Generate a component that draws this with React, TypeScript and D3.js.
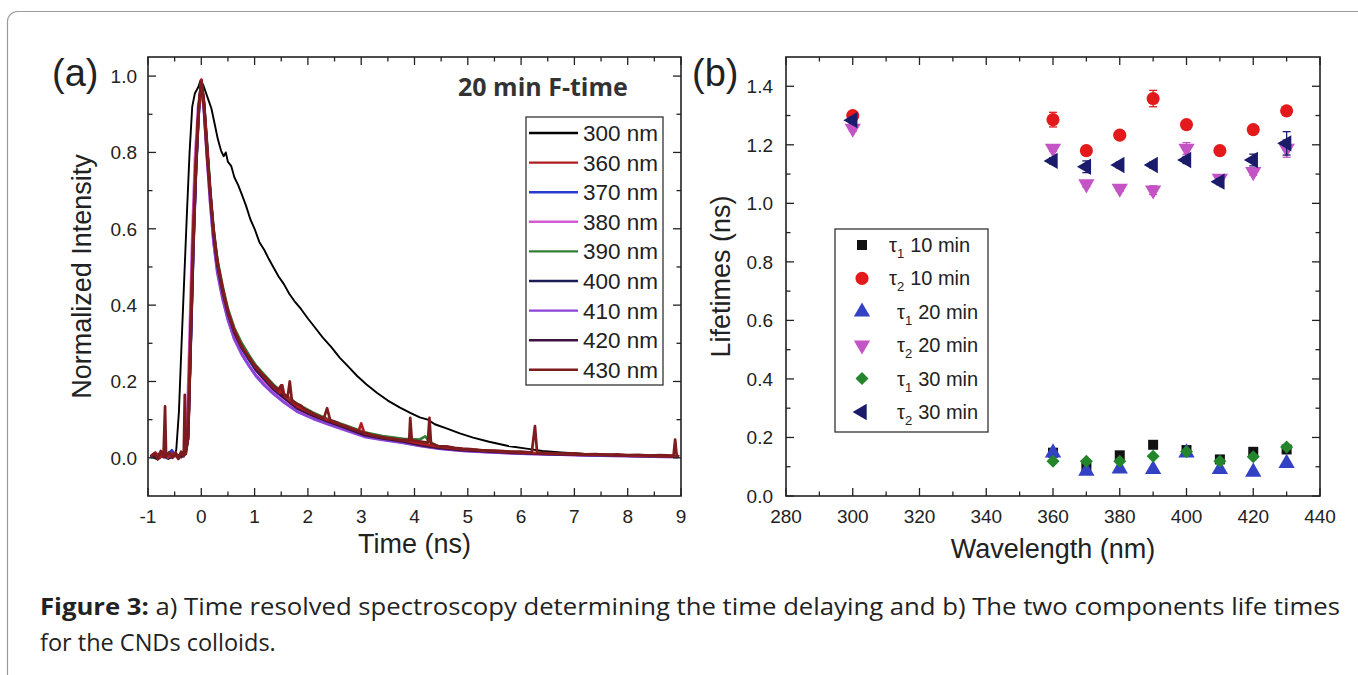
import React from 'react';
import * as d3 from 'd3';

// ---------- panel (a): normalized decay traces, [time ns, intensity] ----------
const TRACE_LABELS = ['300 nm', '360 nm', '370 nm', '380 nm', '390 nm', '400 nm', '410 nm', '420 nm', '430 nm'];
const TRACE_COLORS = ['#000000', '#b01c22', '#2a3bd0', '#d25ad2', '#2f7f34', '#1c1c55', '#8a44d6', '#3c1240', '#7c1c1e'];

const trace300 = [
  [-0.92, 0.002], [-0.82, -0.004], [-0.72, 0.004], [-0.62, -0.003], [-0.52, 0.003], [-0.47, 0.02], [-0.42, 0.12],
  [-0.37, 0.3], [-0.32, 0.47], [-0.27, 0.64], [-0.22, 0.8], [-0.17, 0.92], [-0.12, 0.955], [-0.06, 0.97], [-0.01, 0.99],
  [0.04, 0.975], [0.09, 0.955], [0.14, 0.935], [0.19, 0.915], [0.25, 0.875], [0.31, 0.835], [0.37, 0.805], [0.42, 0.79],
  [0.46, 0.8], [0.5, 0.775], [0.56, 0.765], [0.62, 0.735], [0.69, 0.715], [0.76, 0.69], [0.84, 0.66], [0.92, 0.625],
  [1.0, 0.6], [1.09, 0.565], [1.18, 0.545], [1.27, 0.52], [1.35, 0.5], [1.45, 0.475], [1.55, 0.455], [1.65, 0.43],
  [1.75, 0.41], [1.87, 0.39], [2.0, 0.365], [2.14, 0.34], [2.28, 0.315], [2.44, 0.29], [2.6, 0.262], [2.75, 0.24],
  [2.92, 0.215], [3.1, 0.192], [3.3, 0.17], [3.5, 0.15], [3.72, 0.132], [3.92, 0.118], [4.1, 0.106], [4.25, 0.1],
  [4.38, 0.088], [4.6, 0.077], [4.85, 0.064], [5.1, 0.053], [5.4, 0.042], [5.76, 0.031], [6.1, 0.024], [6.4, 0.018],
  [6.75, 0.014], [7.2, 0.01], [7.7, 0.008], [8.2, 0.006], [8.6, 0.004], [8.95, 0.003],
];

const trace360 = [
  [-0.95, 0.004], [-0.86, 0.014], [-0.78, 0.0], [-0.7, 0.016], [-0.62, 0.002], [-0.52, 0.012], [-0.44, 0.0],
  [-0.36, 0.014], [-0.3, 0.01], [-0.26, 0.05], [-0.21, 0.3], [-0.16, 0.56], [-0.11, 0.76], [-0.05, 0.91], [0.0, 0.99],
  [0.05, 0.93], [0.1, 0.83], [0.17, 0.69], [0.23, 0.595], [0.3, 0.515], [0.4, 0.445], [0.5, 0.385], [0.62, 0.335],
  [0.76, 0.292], [0.9, 0.262], [1.02, 0.238], [1.18, 0.212], [1.35, 0.186], [1.48, 0.17], [1.52, 0.19], [1.56, 0.162],
  [1.81, 0.134], [2.1, 0.115], [2.4, 0.098], [2.7, 0.083], [2.95, 0.07], [3.0, 0.09], [3.06, 0.064], [3.4, 0.054],
  [3.79, 0.046], [4.1, 0.038], [4.45, 0.029], [4.9, 0.023], [5.43, 0.018], [6.0, 0.014], [6.75, 0.01], [7.5, 0.008],
  [8.2, 0.006], [8.95, 0.004],
];

const trace370 = [
  [-0.95, 0.004], [-0.8, 0.01], [-0.65, 0.003], [-0.55, 0.02], [-0.5, 0.004], [-0.38, 0.008], [-0.3, 0.012],
  [-0.25, 0.06], [-0.2, 0.3], [-0.15, 0.55], [-0.1, 0.76], [-0.05, 0.9], [0.0, 0.98], [0.05, 0.92], [0.1, 0.82],
  [0.17, 0.68], [0.23, 0.58], [0.3, 0.5], [0.4, 0.43], [0.5, 0.375], [0.62, 0.325], [0.76, 0.285], [0.9, 0.255],
  [1.02, 0.23], [1.18, 0.205], [1.35, 0.178], [1.55, 0.156], [1.81, 0.128], [2.1, 0.11], [2.4, 0.093], [2.7, 0.078],
  [3.06, 0.06], [3.4, 0.05], [3.79, 0.042], [4.1, 0.034], [4.45, 0.026], [4.9, 0.02], [5.43, 0.016], [6.0, 0.012],
  [6.75, 0.009], [7.5, 0.007], [8.2, 0.005], [8.95, 0.003],
];

const trace380 = [
  [-0.95, 0.003], [-0.8, 0.008], [-0.65, 0.002], [-0.5, 0.01], [-0.38, 0.004], [-0.3, 0.02], [-0.27, 0.07],
  [-0.22, 0.32], [-0.17, 0.58], [-0.12, 0.78], [-0.06, 0.92], [0.0, 0.98], [0.05, 0.91], [0.1, 0.8], [0.17, 0.66],
  [0.23, 0.565], [0.3, 0.49], [0.4, 0.42], [0.5, 0.36], [0.62, 0.31], [0.76, 0.27], [0.9, 0.24], [1.02, 0.218],
  [1.18, 0.195], [1.35, 0.17], [1.55, 0.148], [1.81, 0.122], [2.1, 0.105], [2.4, 0.09], [2.7, 0.075], [3.06, 0.058],
  [3.4, 0.048], [3.79, 0.04], [4.1, 0.032], [4.45, 0.025], [4.9, 0.019], [5.43, 0.015], [6.0, 0.011], [6.75, 0.008],
  [7.5, 0.006], [8.2, 0.005], [8.95, 0.003],
];

const trace390 = [
  [-0.95, 0.002], [-0.8, 0.006], [-0.65, 0.0], [-0.5, 0.008], [-0.38, 0.002], [-0.3, 0.01], [-0.25, 0.05],
  [-0.2, 0.29], [-0.15, 0.55], [-0.1, 0.75], [-0.05, 0.9], [0.0, 0.985], [0.05, 0.935], [0.1, 0.84], [0.17, 0.7],
  [0.23, 0.6], [0.3, 0.52], [0.4, 0.45], [0.5, 0.39], [0.62, 0.34], [0.76, 0.3], [0.9, 0.268], [1.02, 0.243],
  [1.18, 0.218], [1.35, 0.192], [1.55, 0.168], [1.81, 0.14], [2.1, 0.118], [2.4, 0.1], [2.7, 0.085], [3.06, 0.067],
  [3.4, 0.057], [3.79, 0.05], [4.1, 0.048], [4.2, 0.056], [4.3, 0.04], [4.45, 0.03], [4.9, 0.023], [5.43, 0.018],
  [6.0, 0.013], [6.75, 0.01], [7.5, 0.007], [8.2, 0.005], [8.95, 0.004],
];

const trace400 = [
  [-0.95, 0.003], [-0.8, 0.008], [-0.65, 0.001], [-0.5, 0.009], [-0.38, 0.003], [-0.3, 0.012], [-0.25, 0.05],
  [-0.2, 0.3], [-0.15, 0.56], [-0.1, 0.76], [-0.05, 0.91], [0.0, 0.99], [0.05, 0.93], [0.1, 0.83], [0.17, 0.69],
  [0.23, 0.59], [0.3, 0.51], [0.4, 0.44], [0.5, 0.38], [0.62, 0.33], [0.76, 0.29], [0.9, 0.26], [1.02, 0.235],
  [1.18, 0.21], [1.35, 0.183], [1.55, 0.16], [1.81, 0.13], [2.1, 0.112], [2.4, 0.096], [2.7, 0.08], [3.06, 0.061],
  [3.4, 0.052], [3.79, 0.044], [4.1, 0.035], [4.45, 0.026], [4.9, 0.021], [5.43, 0.017], [6.0, 0.013], [6.75, 0.009],
  [7.5, 0.007], [8.2, 0.005], [8.95, 0.003],
];

const trace410 = [
  [-0.95, 0.002], [-0.8, 0.007], [-0.65, 0.0], [-0.5, 0.006], [-0.38, 0.002], [-0.3, 0.01], [-0.25, 0.05],
  [-0.2, 0.29], [-0.15, 0.54], [-0.1, 0.75], [-0.05, 0.9], [0.0, 0.975], [0.05, 0.91], [0.1, 0.8], [0.17, 0.665],
  [0.23, 0.565], [0.3, 0.485], [0.4, 0.415], [0.5, 0.362], [0.62, 0.312], [0.76, 0.272], [0.9, 0.24], [1.02, 0.215],
  [1.18, 0.19], [1.35, 0.168], [1.55, 0.145], [1.81, 0.12], [2.1, 0.102], [2.4, 0.087], [2.7, 0.072], [3.06, 0.055],
  [3.4, 0.047], [3.79, 0.039], [4.1, 0.031], [4.45, 0.024], [4.9, 0.018], [5.43, 0.014], [6.0, 0.011], [6.75, 0.008],
  [7.5, 0.006], [8.2, 0.004], [8.95, 0.002],
];

const trace420 = [
  [-0.95, 0.003], [-0.8, 0.009], [-0.65, 0.002], [-0.5, 0.01], [-0.38, 0.003], [-0.3, 0.011], [-0.25, 0.05],
  [-0.2, 0.3], [-0.15, 0.56], [-0.1, 0.76], [-0.05, 0.91], [0.0, 0.985], [0.05, 0.925], [0.1, 0.825], [0.17, 0.685],
  [0.23, 0.585], [0.3, 0.505], [0.4, 0.435], [0.5, 0.378], [0.62, 0.328], [0.76, 0.288], [0.9, 0.258], [1.02, 0.232],
  [1.18, 0.207], [1.35, 0.181], [1.55, 0.158], [1.81, 0.129], [2.1, 0.11], [2.4, 0.094], [2.7, 0.079], [3.06, 0.06],
  [3.4, 0.051], [3.79, 0.043], [4.1, 0.034], [4.45, 0.026], [4.9, 0.02], [5.43, 0.016], [6.0, 0.012], [6.75, 0.009],
  [7.5, 0.007], [8.2, 0.005], [8.95, 0.003],
];

const trace430 = [
  [-0.95, 0.003], [-0.88, 0.012], [-0.82, -0.004], [-0.76, 0.018], [-0.71, 0.002], [-0.68, 0.135], [-0.66, 0.004],
  [-0.6, 0.015], [-0.54, 0.0], [-0.48, 0.014], [-0.43, -0.003], [-0.38, 0.016], [-0.33, 0.004], [-0.31, 0.165],
  [-0.29, 0.01], [-0.26, 0.04], [-0.23, 0.12], [-0.2, 0.32], [-0.15, 0.57], [-0.1, 0.77], [-0.05, 0.92], [0.0, 0.985],
  [0.04, 0.94], [0.08, 0.85], [0.12, 0.77], [0.17, 0.69], [0.22, 0.61], [0.27, 0.55], [0.32, 0.5], [0.38, 0.455],
  [0.44, 0.415], [0.5, 0.385], [0.56, 0.355], [0.62, 0.335], [0.69, 0.31], [0.76, 0.292], [0.83, 0.275], [0.9, 0.262],
  [0.97, 0.246], [1.04, 0.238], [1.12, 0.222], [1.2, 0.212], [1.28, 0.2], [1.36, 0.188], [1.44, 0.178], [1.5, 0.19],
  [1.54, 0.166], [1.62, 0.16], [1.66, 0.2], [1.7, 0.15], [1.78, 0.142], [1.86, 0.138], [1.94, 0.128], [2.02, 0.122],
  [2.1, 0.116], [2.2, 0.108], [2.3, 0.104], [2.36, 0.13], [2.42, 0.098], [2.52, 0.094], [2.62, 0.086], [2.72, 0.082],
  [2.82, 0.076], [2.92, 0.072], [3.02, 0.066], [3.12, 0.064], [3.22, 0.058], [3.32, 0.056], [3.42, 0.053],
  [3.52, 0.05], [3.62, 0.05], [3.72, 0.046], [3.82, 0.048], [3.9, 0.044], [3.92, 0.105], [3.95, 0.046], [4.05, 0.044],
  [4.15, 0.042], [4.25, 0.04], [4.28, 0.105], [4.31, 0.038], [4.45, 0.03], [4.6, 0.03], [4.75, 0.026], [4.9, 0.024],
  [5.05, 0.023], [5.2, 0.02], [5.4, 0.019], [5.6, 0.018], [5.8, 0.016], [6.0, 0.016], [6.2, 0.014], [6.26, 0.083],
  [6.3, 0.014], [6.45, 0.013], [6.6, 0.012], [6.8, 0.011], [7.0, 0.012], [7.2, 0.009], [7.4, 0.01], [7.6, 0.008],
  [7.8, 0.009], [8.0, 0.007], [8.2, 0.008], [8.4, 0.006], [8.6, 0.007], [8.86, 0.006], [8.89, 0.048], [8.92, 0.005],
  [8.97, 0.004],
];

const TRACES = [trace300, trace360, trace370, trace380, trace390, trace400, trace410, trace420, trace430];
// draw order: black first, reds last (on top)
const DRAW_ORDER = [0, 2, 3, 4, 5, 6, 7, 1, 8];

// ---------- panel (b): lifetimes vs excitation wavelength ----------
const WAVELENGTH = [300, 360, 370, 380, 390, 400, 410, 420, 430];
const tau1_10 = [null, 0.148, 0.102, 0.139, 0.175, 0.157, 0.125, 0.151, 0.159];
const tau2_10 = [1.30, 1.286, 1.18, 1.233, 1.358, 1.269, 1.18, 1.252, 1.316];
const tau2_10_err = [0.01, 0.025, 0.012, 0.012, 0.028, 0.012, 0.012, 0.01, 0.01];
const tau1_20 = [null, 0.148, 0.085, 0.093, 0.091, 0.148, 0.091, 0.082, 0.112];
const tau2_20 = [1.256, 1.1875, 1.066, 1.051, 1.045, 1.1875, 1.085, 1.108, 1.1875];
const tau2_20_err = [0.01, 0.01, 0.01, 0.01, 0.015, 0.02, 0.01, 0.012, 0.03];
const tau1_30 = [null, 0.119, 0.119, 0.119, 0.136, 0.151, 0.119, 0.134, 0.167];
const tau2_30 = [1.284, 1.145, 1.125, 1.131, 1.131, 1.148, 1.074, 1.148, 1.205];
const tau2_30_err = [0.01, 0.01, 0.02, 0.01, 0.01, 0.012, 0.01, 0.02, 0.04];

const LIFETIME_SERIES = [
  { sub: '1', label: '10 min', values: tau1_10, err: null, color: '#111111', shape: 'square' },
  { sub: '2', label: '10 min', values: tau2_10, err: tau2_10_err, color: '#e3191c', shape: 'circle' },
  { sub: '1', label: '20 min', values: tau1_20, err: null, color: '#3342c4', shape: 'up' },
  { sub: '2', label: '20 min', values: tau2_20, err: tau2_20_err, color: '#c453c6', shape: 'down' },
  { sub: '1', label: '30 min', values: tau1_30, err: null, color: '#23862c', shape: 'diamond' },
  { sub: '2', label: '30 min', values: tau2_30, err: tau2_30_err, color: '#1b1b6b', shape: 'left' },
];

const W = 1358;
const H = 675;
const A = { left: 148, right: 681, top: 57, bottom: 496 };
const B = { left: 786, right: 1320, top: 57, bottom: 496 };
const FONT = "'Liberation Sans', Arial, sans-serif";

const xA = d3.scaleLinear().domain([-1, 9]).range([A.left, A.right]);
const yA = d3.scaleLinear().domain([-0.1, 1.05]).range([A.bottom, A.top]);
const xB = d3.scaleLinear().domain([280, 440]).range([B.left, B.right]);
const yB = d3.scaleLinear().domain([0, 1.5]).range([B.bottom, B.top]);

function shapePath(shape: string) {
  if (shape === 'square') return { d: d3.symbol().type(d3.symbolSquare).size(100)(), rot: 0 };
  if (shape === 'circle') return { d: d3.symbol().type(d3.symbolCircle).size(135)(), rot: 0 };
  if (shape === 'up') return { d: d3.symbol().type(d3.symbolTriangle).size(115)(), rot: 0 };
  if (shape === 'down') return { d: d3.symbol().type(d3.symbolTriangle).size(115)(), rot: 180 };
  if (shape === 'diamond') return { d: d3.symbol().type(d3.symbolSquare).size(85)(), rot: 45 };
  return { d: d3.symbol().type(d3.symbolTriangle).size(115)(), rot: -90 };
}

function Frame({ box, x, y, xMajor, xMinor, yMajor, yMinor }: any) {
  const maj = 8;
  const mnr = 4.5;
  const st = { stroke: '#222', strokeWidth: 1.3 };
  return (
    <g>
      {xMajor.map((v: number) => (
        <g key={'xM' + v}>
          <line x1={x(v)} x2={x(v)} y1={box.bottom} y2={box.bottom - maj} style={st} />
          <line x1={x(v)} x2={x(v)} y1={box.top} y2={box.top + maj} style={st} />
        </g>
      ))}
      {xMinor.map((v: number) => (
        <g key={'xm' + v}>
          <line x1={x(v)} x2={x(v)} y1={box.bottom} y2={box.bottom - mnr} style={st} />
          <line x1={x(v)} x2={x(v)} y1={box.top} y2={box.top + mnr} style={st} />
        </g>
      ))}
      {yMajor.map((v: number) => (
        <g key={'yM' + v}>
          <line x1={box.left} x2={box.left + maj} y1={y(v)} y2={y(v)} style={st} />
          <line x1={box.right} x2={box.right - maj} y1={y(v)} y2={y(v)} style={st} />
        </g>
      ))}
      {yMinor.map((v: number) => (
        <g key={'ym' + v}>
          <line x1={box.left} x2={box.left + mnr} y1={y(v)} y2={y(v)} style={st} />
          <line x1={box.right} x2={box.right - mnr} y1={y(v)} y2={y(v)} style={st} />
        </g>
      ))}
      <rect x={box.left} y={box.top} width={box.right - box.left} height={box.bottom - box.top}
        style={{ fill: 'none', stroke: '#222', strokeWidth: 1.6 }} />
    </g>
  );
}

export default function App() {
  const line = d3.line<number[]>().x(d => xA(d[0])).y(d => yA(d[1]));
  const fmt1 = d3.format('.1f');

  const aXMajor = d3.range(-1, 9.01, 1);
  const aXMinor = d3.range(-0.5, 8.6, 1);
  const aYMajor = d3.range(0, 1.01, 0.2).map(v => +v.toFixed(1));
  const aYMinor = [0.1, 0.3, 0.5, 0.7, 0.9];
  const bXMajor = d3.range(280, 441, 20);
  const bXMinor = d3.range(290, 431, 20);
  const bYMajor = d3.range(0, 1.41, 0.2).map(v => +v.toFixed(1));
  const bYMinor = [0.1, 0.3, 0.5, 0.7, 0.9, 1.1, 1.3];

  const legA = { x: 526, y: 117, w: 137, h: 268, row0: 133, dy: 29.6 };
  const legB = { x: 835, y: 229, w: 153, h: 203, row0: 245, dy: 33.4 };

  return (
    <svg width={W} height={H} style={{ position: 'absolute', left: 0, top: 0, background: '#fff' }} fontFamily={FONT}>
      <rect x={7.5} y={11.5} width={1420} height={720} rx={10} style={{ fill: 'none', stroke: '#9a9a9a', strokeWidth: 1.2 }} />

      {/* ---------------- panel (a) ---------------- */}
      <text x={52} y={86} fontSize={38} fill="#222">(a)</text>
      <defs>
        <clipPath id="clipA">
          <rect x={A.left} y={A.top} width={A.right - A.left} height={A.bottom - A.top} />
        </clipPath>
      </defs>
      <g clipPath="url(#clipA)">
        {DRAW_ORDER.map(i => (
          <path key={i} d={line(TRACES[i] as number[][]) || ''} fill="none" stroke={TRACE_COLORS[i]}
            strokeWidth={i === 0 ? 1.9 : 2.7} strokeLinejoin="round" />
        ))}
      </g>
      <Frame box={A} x={xA} y={yA} xMajor={aXMajor} xMinor={aXMinor} yMajor={aYMajor} yMinor={aYMinor} />
      {aXMajor.map(v => (
        <text key={v} x={xA(v)} y={523} fontSize={19} textAnchor="middle" fill="#222">{v}</text>
      ))}
      {aYMajor.map(v => (
        <text key={v} x={137} y={yA(v) + 7} fontSize={19} textAnchor="end" fill="#222">{fmt1(v)}</text>
      ))}
      <text x={(A.left + A.right) / 2} y={553} fontSize={27} textAnchor="middle" fill="#222">Time (ns)</text>
      <text transform={`translate(91,${(A.top + A.bottom) / 2}) rotate(-90)`} fontSize={27} textAnchor="middle" fill="#222">
        Normalized Intensity
      </text>
      <text x={458} y={96} fontSize={25} fontWeight="bold" fontFamily="'Open Sans', sans-serif" fill="#333">20 min F-time</text>

      <rect x={legA.x} y={legA.y} width={legA.w} height={legA.h} style={{ fill: '#fff', stroke: '#333', strokeWidth: 1.3 }} />
      {TRACE_LABELS.map((lab, i) => {
        const yy = legA.row0 + i * legA.dy;
        return (
          <g key={lab}>
            <line x1={legA.x + 3} x2={legA.x + 52} y1={yy} y2={yy} stroke={TRACE_COLORS[i]} strokeWidth={2.4} />
            <text x={legA.x + 57} y={yy + 8} fontSize={22.5} fill="#222">{lab}</text>
          </g>
        );
      })}

      {/* ---------------- panel (b) ---------------- */}
      <text x={692} y={86} fontSize={38} fill="#222">(b)</text>
      <Frame box={B} x={xB} y={yB} xMajor={bXMajor} xMinor={bXMinor} yMajor={bYMajor} yMinor={bYMinor} />
      {bXMajor.map(v => (
        <text key={v} x={xB(v)} y={523} fontSize={19} textAnchor="middle" fill="#222">{v}</text>
      ))}
      {bYMajor.map(v => (
        <text key={v} x={773} y={yB(v) + 7} fontSize={19} textAnchor="end" fill="#222">{fmt1(v)}</text>
      ))}
      <text x={(B.left + B.right) / 2} y={558} fontSize={27} textAnchor="middle" fill="#222">Wavelength (nm)</text>
      <text transform={`translate(730,${(B.top + B.bottom) / 2}) rotate(-90)`} fontSize={27} textAnchor="middle" fill="#222">
        Lifetimes (ns)
      </text>

      {LIFETIME_SERIES.map((s, si) => {
        const sp = shapePath(s.shape);
        return (
          <g key={si}>
            {s.values.map((v, i) => {
              if (v === null) return null;
              const cx = xB(WAVELENGTH[i]);
              const cy = yB(v);
              const e = s.err ? s.err[i] : 0;
              return (
                <g key={i}>
                  {e > 0 && (
                    <g stroke={s.color} strokeWidth={1.3}>
                      <line x1={cx} x2={cx} y1={yB(v - e)} y2={yB(v + e)} />
                      <line x1={cx - 4} x2={cx + 4} y1={yB(v - e)} y2={yB(v - e)} />
                      <line x1={cx - 4} x2={cx + 4} y1={yB(v + e)} y2={yB(v + e)} />
                    </g>
                  )}
                  <path d={sp.d || ''} transform={`translate(${cx},${cy}) rotate(${sp.rot})`} fill={s.color} />
                </g>
              );
            })}
          </g>
        );
      })}

      <rect x={legB.x} y={legB.y} width={legB.w} height={legB.h} style={{ fill: '#fff', stroke: '#333', strokeWidth: 1.3 }} />
      {LIFETIME_SERIES.map((s, i) => {
        const yy = legB.row0 + i * legB.dy;
        const sp = shapePath(s.shape);
        const tx = i < 2 ? 889 : 897;
        return (
          <g key={i}>
            <path d={sp.d || ''} transform={`translate(862,${yy}) rotate(${sp.rot})`} fill={s.color} />
            <text x={tx} y={yy + 7} fontSize={20} fill="#222">
              τ<tspan fontSize={13} dy={6}>{s.sub}</tspan><tspan dy={-6} dx={6}>{s.label}</tspan>
            </text>
          </g>
        );
      })}

      {/* ---------------- caption ---------------- */}
      <text x={40} y={615} fontSize={23.5} fontFamily="'Open Sans', sans-serif" fill="#222" textLength={1300} lengthAdjust="spacingAndGlyphs">
        <tspan fontWeight="bold">Figure 3:</tspan> a) Time resolved spectroscopy determining the time delaying and b) The two components life times
      </text>
      <text x={40} y={651} fontSize={23.5} fontFamily="'Open Sans', sans-serif" fill="#222">for the CNDs colloids.</text>
    </svg>
  );
}
